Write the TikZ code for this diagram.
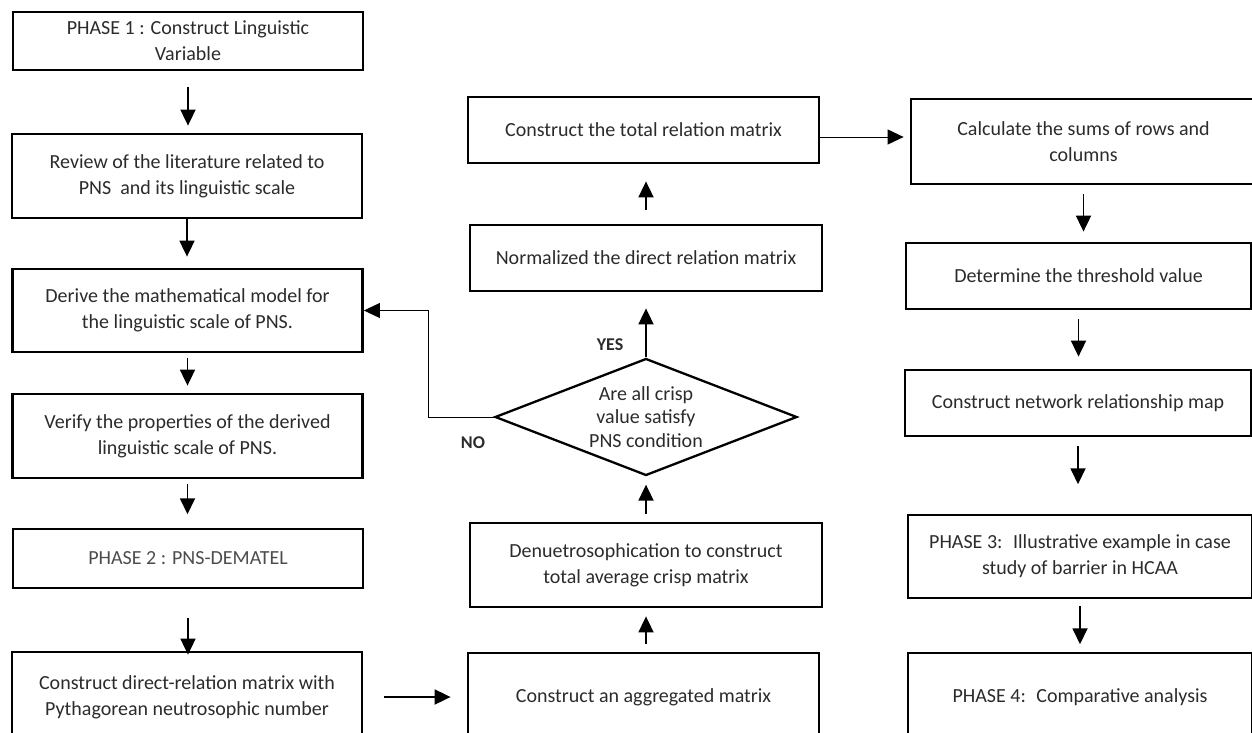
\documentclass[tikz,border=0pt]{standalone}
\usepackage{fontspec}
\setmainfont{Carlito}
\usepackage{tikz}
\usetikzlibrary{arrows.meta, positioning, shapes.geometric}

\definecolor{txtgray}{HTML}{2B2B2B}

\begin{document}
\begin{tikzpicture}[
    x=1pt, y=-1pt,
    box/.style={draw, line width=2.8pt, rectangle, align=center, text=txtgray,
        font=\fontsize{20}{26}\selectfont, minimum width=350pt, inner sep=0pt},
    phase/.style={box, line width=1.5pt},
    decision/.style={draw, diamond, line width=2.3pt, aspect=2.6, align=center, text=txtgray,
        font=\fontsize{20}{23.5}\selectfont, minimum width=302pt, minimum height=117pt, inner sep=0pt},
    flow/.style={-{Triangle[length=16pt, width=15pt]}, line width=1.8pt},
    link/.style={-{Triangle[length=16pt, width=15pt]}, line width=1pt},
    tag/.style={font=\fontsize{18}{20}\selectfont\bfseries, text=txtgray}
]
    \useasboundingbox (0,0) rectangle (1252,733);
    \clip (0,0) rectangle (1252,733);

    % left column
    \node[phase, minimum height=58pt] (lingvar) at (188,41) {PHASE 1 : Construct Linguistic\\Variable};
    \node[box, minimum height=84pt] (review) at (187,176) {Review of the literature related to\\PNS \ and its linguistic scale};
    \node[box, minimum height=83pt] (derive) at (187.5,310.5) {Derive the mathematical model for\\the linguistic scale of PNS.};
    \node[box, minimum height=84pt] (verify) at (187.5,436) {Verify the properties of the derived\\linguistic scale of PNS.};
    \node[phase, minimum height=59pt, text=black!70] (dematel) at (188,558.5) {PHASE 2 : PNS-DEMATEL};
    \node[box, minimum height=90pt] (direct) at (187,697) {Construct direct-relation matrix with\\Pythagorean neutrosophic number};

    % middle column
    \node[box, minimum width=351pt, minimum height=88pt] (aggr) at (643.5,697) {Construct an aggregated matrix};
    \node[box, minimum width=352pt, minimum height=84pt] (crisp) at (646,565) {Denuetrosophication to construct\\total average crisp matrix};
    \node[decision] (check) at (646,417) {Are all crisp\\value satisfy\\PNS condition};
    \node[box, minimum width=352pt, minimum height=66pt] (normal) at (646,258) {Normalized the direct relation matrix};
    \node[box, minimum width=351pt, minimum height=66pt] (total) at (643.5,130) {Construct the total relation matrix};

    % right column
    \node[box, minimum width=345pt, minimum height=85pt] (sums) at (1083.5,141.5) {Calculate the sums of rows and\\columns};
    \node[box, minimum width=345pt, minimum height=66pt] (thresh) at (1078.5,276) {Determine the threshold value};
    \node[box, minimum width=346pt, minimum height=66pt] (netmap) at (1078,403) {Construct network relationship map};
    \node[phase, minimum width=344pt, minimum height=83pt] (example) at (1080,556.5) {PHASE 3: \ Illustrative example in case\\study of barrier in HCAA};
    \node[phase, minimum width=344pt, minimum height=88pt] (compare) at (1080,697) {PHASE 4: \ Comparative analysis};

    \node[tag] (yes) at (610,345) {YES};
    \node[tag] (no) at (473,443) {NO};

    % connectors
    \draw[flow, shorten <=16pt, shorten >=7pt] (lingvar.south) -- (lingvar.south |- review.north);
    \draw[flow, shorten >=11pt] (review.south) -- (review.south |- derive.north);
    \draw[flow, shorten <=5pt, shorten >=7pt] (derive.south) -- (derive.south |- verify.north);
    \draw[flow, shorten <=5pt, shorten >=14pt] (verify.south) -- (verify.south |- dematel.north);
    \draw[flow, shorten <=29pt, shorten >=-4pt] (dematel.south) -- (dematel.south |- direct.north);
    \draw[flow, shorten <=21pt, shorten >=16pt] (direct.east) -- (direct.east -| aggr.west);

    \draw[flow, shorten <=8pt, shorten >=8pt] (crisp.south |- aggr.north) -- (crisp.south);
    \draw[flow, shorten <=8pt, shorten >=8pt] (crisp.north) -- (check.south);
    \draw[flow, shorten >=16pt] (check.north) -- (check.north |- normal.south);
    \draw[flow, shorten <=14pt, shorten >=17pt] (normal.north) -- (normal.north |- total.south);
    \draw[link] (check.west) -- ++(-65,0) |- (derive.east);
    \draw[link, shorten >=6pt] ([yshift=-7pt]total.east) -- ([yshift=-7pt]total.east -| sums.west);

    \draw[flow, shorten <=9pt, shorten >=10pt] (sums.south) -- (sums.south |- thresh.north);
    \draw[flow, shorten <=9pt, shorten >=12pt] (thresh.south) -- (thresh.south |- netmap.north);
    \draw[flow, shorten <=9pt, shorten >=30pt] (netmap.south) -- (netmap.south |- example.north);
    \draw[flow, shorten <=7pt, shorten >=8pt] (example.south) -- (example.south |- compare.north);
\end{tikzpicture}
\end{document}
